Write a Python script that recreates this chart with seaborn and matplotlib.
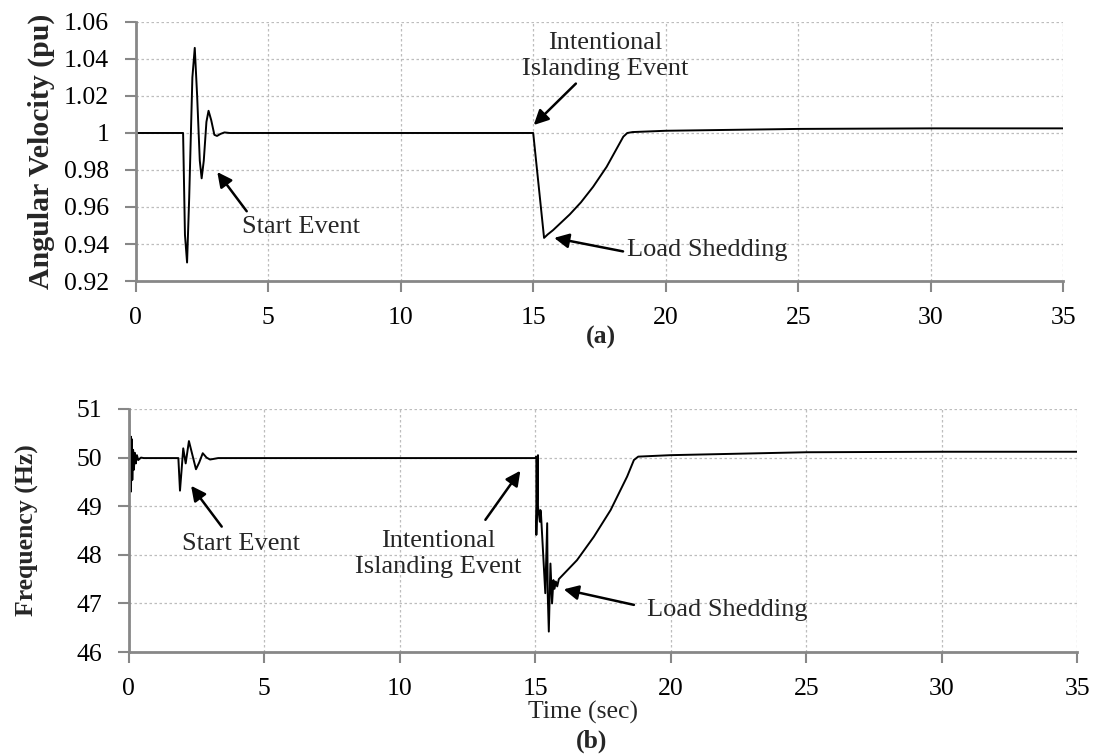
import numpy as np
import seaborn as sns
import matplotlib.pyplot as plt

# angular velocity (pu) vs time (s)
t_w = [0.0, 1.79, 1.86, 1.94, 2.02, 2.14, 2.23, 2.32, 2.42, 2.49, 2.57, 2.67, 2.75,
       2.85, 2.97, 3.07, 3.2, 3.35, 3.55, 15.0, 15.41, 15.55, 15.75, 16.38, 16.8, 17.26,
       17.77, 18.40, 18.55, 18.75, 20.0, 25.0, 30.0, 35.0]
w = [1.0, 1.0, 0.945, 0.930, 0.965, 1.03, 1.046, 1.02, 0.985, 0.9755, 0.985, 1.006, 1.012,
     1.007, 0.999, 0.9984, 0.9995, 1.0003, 1.0, 1.0, 0.9433, 0.9452, 0.9475, 0.9560, 0.9625, 0.9709,
     0.9817, 0.998, 1.0, 1.0005, 1.0012, 1.0022, 1.0025, 1.0025]

# frequency (Hz) vs time (s)
t_f = [0.0, 0.01, 0.04, 0.08, 0.08, 0.11, 0.13, 0.16, 0.19, 0.22, 0.26, 0.30, 0.35, 0.45, 0.55,
       1.83, 1.89, 1.95, 2.01, 2.10, 2.22, 2.35, 2.48, 2.60, 2.73, 2.87, 3.0, 3.3,
       15.0, 15.04, 15.04, 15.10, 15.10, 15.17, 15.19, 15.21, 15.37, 15.44, 15.46, 15.50,
       15.56, 15.62, 15.67, 15.71, 15.76, 15.81, 15.87, 16.54, 17.16, 17.78, 18.39,
       18.64, 18.8, 20.0, 25.0, 30.0, 35.0]
f = [50.0, 51.0, 49.6, 50.43, 49.30, 50.38, 49.54, 50.16, 49.75, 50.10, 49.88, 50.05, 49.95, 50.0, 49.99,
     49.99, 49.32, 49.75, 50.19, 49.88, 50.34, 50.05, 49.76, 49.9, 50.09, 50.0, 49.96, 49.99,
     49.99, 50.02, 48.41, 50.05, 48.99, 48.68, 48.92, 48.85, 47.21, 48.65, 47.2, 46.42,
     47.82, 47.0, 47.48, 47.3, 47.45, 47.35, 47.5, 47.89, 48.37, 48.92, 49.61,
     49.95, 50.02, 50.05, 50.11, 50.12, 50.12]

x_ticks = [0, 5, 10, 15, 20, 25, 30, 35]
w_ticks = [0.92, 0.94, 0.96, 0.98, 1.0, 1.02, 1.04, 1.06]
w_tick_labels = ['0.92', '0.94', '0.96', '0.98', '1', '1.02', '1.04', '1.06']
f_ticks = [46, 47, 48, 49, 50, 51]

sns.set_theme(style='white')
plt.rcParams['font.family'] = ['Liberation Serif', 'DejaVu Serif']

fig = plt.figure(figsize=(10.94, 7.55), dpi=100)
ax1 = fig.add_axes([0.1240, 0.6278, 0.8479, 0.3431])
ax2 = fig.add_axes([0.1177, 0.1364, 0.8670, 0.3219])

sns.lineplot(x=t_w, y=w, ax=ax1, color='black', lw=1.4, estimator=None, sort=False)
sns.lineplot(x=t_f, y=f, ax=ax2, color='black', lw=1.4, estimator=None, sort=False)

for ax in (ax1, ax2):
    ax.set_xlim(0, 35)
    ax.set_xticks(x_ticks)
    ax.grid(True, color='#bdbdbd', linestyle=(0, (2, 2)), linewidth=0.9)
    for s in ('top', 'right'):
        ax.spines[s].set_visible(False)
    for s in ('left', 'bottom'):
        ax.spines[s].set_color('#878787')
        ax.spines[s].set_linewidth(2)
    ax.tick_params(direction='out', length=8, width=1.5, color='#878787',
                   labelsize=18.5, pad=11, left=True, bottom=True, labelcolor='black')
    ax.set_xlabel('')
    ax.set_ylabel('')

ax1.set_ylim(0.92, 1.06)
ax1.set_yticks(w_ticks)
ax1.set_yticklabels(w_tick_labels)
ax2.set_ylim(46, 51)
ax2.set_yticks(f_ticks)

arrow = dict(arrowstyle='-|>', color='black', lw=1.8, mutation_scale=22, shrinkA=0, shrinkB=0)
txt = dict(fontsize=19, ha='center', va='center')

# panel (a) annotations
ax1.text(6.22, 0.9494, 'Start Event', **txt)
ax1.annotate('', xy=(3.08, 0.9789), xytext=(4.19, 0.9577), arrowprops=arrow)
ax1.text(17.70, 1.0415, 'Intentional\nIslanding Event', linespacing=1.25, **txt)
ax1.annotate('', xy=(15.02, 1.0043), xytext=(16.61, 1.0267), arrowprops=arrow)
ax1.text(21.57, 0.9369, 'Load Shedding', **txt)
ax1.annotate('', xy=(15.79, 0.9433), xytext=(18.39, 0.936), arrowprops=arrow)

# panel (b) annotations
ax2.text(4.14, 48.22, 'Start Event', **txt)
ax2.annotate('', xy=(2.30, 49.42), xytext=(3.43, 48.58), arrowprops=arrow)
ax2.text(11.41, 48.02, 'Intentional\nIslanding Event', linespacing=1.25, **txt)
ax2.annotate('', xy=(14.45, 49.73), xytext=(13.16, 48.72), arrowprops=arrow)
ax2.text(22.09, 46.86, 'Load Shedding', **txt)
ax2.annotate('', xy=(16.05, 47.29), xytext=(18.64, 46.97), arrowprops=arrow)

fig.text(0.0375, 0.80, 'Angular Velocity (pu)', rotation=90, fontsize=21.5,
         fontweight='bold', ha='center', va='center')
fig.text(0.0247, 0.2974, 'Frequency (Hz)', rotation=90, fontsize=18.5,
         fontweight='bold', ha='center', va='center')
fig.text(0.549, 0.5536, '(a)', fontsize=18.5, fontweight='bold', ha='center', va='center')
fig.text(0.5325, 0.057, 'Time (sec)', fontsize=18.5, ha='center', va='center')
fig.text(0.541, 0.0185, '(b)', fontsize=18.5, fontweight='bold', ha='center', va='center')

fig.savefig('out.png', dpi=100, facecolor='white')
